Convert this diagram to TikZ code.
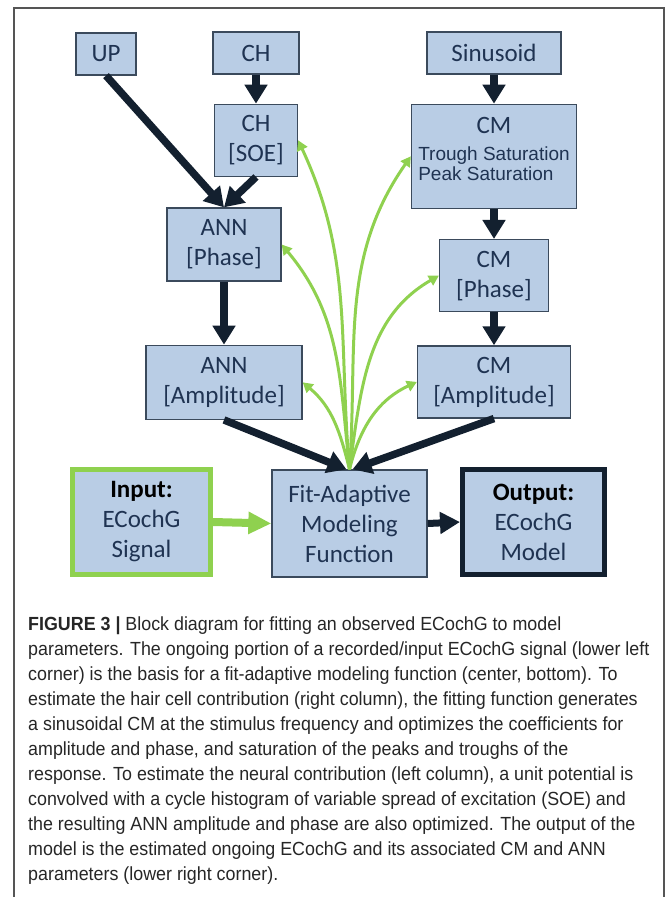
\documentclass[tikz,border=0pt]{standalone}
\usepackage{fontspec}
\usepackage{tikz}
\usetikzlibrary{arrows.meta,positioning}
\usepackage{xcolor}
\newfontfamily\boxfont{Carlito}
\newfontfamily\arialfont{Liberation Sans}
\newfontfamily\capfont[FakeStretch=0.94]{Liberation Sans}
\definecolor{boxfill}{HTML}{B9CDE5}
\definecolor{boxline}{HTML}{3B4A5C}
\definecolor{textnavy}{HTML}{1F3352}
\definecolor{arrownavy}{HTML}{13202F}
\definecolor{leafgreen}{HTML}{8FD14F}
\definecolor{framegray}{HTML}{555555}

\begin{document}
\begin{tikzpicture}[x=1pt, y=-1pt, node distance=30pt and 40pt]
\tikzset{box/.style={draw=boxline, line width=1.3pt, fill=boxfill, text=textnavy, align=center, inner sep=2pt, font=\boxfont\fontsize{25}{30}\selectfont}}
\tikzset{flow/.style={-{Triangle[width=22pt,length=19pt]}, line width=7.5pt, draw=arrownavy}}
\tikzset{fitarrow/.style={-{Triangle[width=11pt,length=10pt]}, line width=3pt, draw=leafgreen}}
\useasboundingbox (0,0) rectangle (669,897);
\draw[framegray, line width=1.3pt] (14,897) -- (14,8) -- (664,8) -- (664,897);
% left column
\node[box, minimum width=60pt, minimum height=42pt] (up) at (106,54) {UP};
\node[box, minimum width=86pt, minimum height=42pt] (ch) at (256,53) {CH};
\node[box, minimum width=83pt, minimum height=72pt, below=29pt of ch] (chsoe) {CH\\{[}SOE{]}};
\node[box, minimum width=114pt, minimum height=73pt] (annph) at (224,244.5) {ANN\\{[}Phase{]}};
\node[box, minimum width=156pt, minimum height=74pt, below=63pt of annph] (annamp) {ANN\\{[}Amplitude{]}};
% right column
\node[box, minimum width=134pt, minimum height=42pt] (sin) at (494,53) {Sinusoid};
\node[box, minimum width=165pt, minimum height=104pt, below=29pt of sin] (cmsat) {CM\\[7pt]{\arialfont\fontsize{19}{20}\selectfont\begin{tabular}{@{}l@{}}Trough Saturation\\Peak Saturation\end{tabular}}\\[-5pt]};
\node[box, minimum width=109pt, minimum height=72pt, below=30pt of cmsat] (cmph) {CM\\{[}Phase{]}};
\node[box, minimum width=153pt, minimum height=72pt, below=33pt of cmph] (cmamp) {CM\\{[}Amplitude{]}};
% bottom row
\node[box, minimum width=155pt, minimum height=107pt] (fit) at (349.5,523.5) {Fit-Adaptive\\Modeling\\Function};
\node[box, draw=leafgreen, line width=5pt, minimum width=138pt, minimum height=105pt] (input) at (141.5,522) {{\bfseries\color{black}Input:}\\ECochG\\Signal};
\node[box, draw=arrownavy, line width=5pt, minimum width=142pt, minimum height=105pt] (output) at (533.5,522) {{\bfseries\color{black}Output:}\\ECochG\\Model};
% dark connectors
\draw[flow] (up.south) -- (annph.north);
\draw[flow] (ch.south) -- (chsoe.north);
\draw[flow] (chsoe.south) -- (annph.north);
\draw[flow] (annph.south) -- (annamp.north);
\draw[flow] (sin.south) -- (cmsat.north);
\draw[flow] (cmsat.south) -- (cmph.north);
\draw[flow] (cmph.south) -- (cmamp.north);
\draw[flow] (annamp.south) -- ([xshift=-3pt]fit.north);
\draw[flow] (cmamp.south) -- ([xshift=3pt]fit.north);
\draw[flow, line width=7pt, -{Triangle[width=21pt,length=20pt]}] (fit.east) -- (output.west);
\draw[flow, draw=leafgreen, line width=8pt, -{Triangle[width=21pt,length=23pt]}] (input.east) -- (fit.west);
% fitted coefficients
\draw[fitarrow] (fit.north) to[out=104, in=-40] (annamp.east);
\draw[fitarrow] (fit.north) to[out=96, in=-50] (annph.east);
\draw[fitarrow] (fit.north) to[out=95, in=-65] (chsoe.east);
\draw[fitarrow] (fit.north) to[out=86, in=-125] (cmsat.west);
\draw[fitarrow] (fit.north) to[out=82, in=-150] (cmph.west);
\draw[fitarrow] (fit.north) to[out=76, in=-155] (cmamp.west);
% caption
\node[anchor=north west, inner sep=0pt, align=left, text=black!85, font=\capfont\fontsize{19}{25}\selectfont] (caption) at (28,617) {\textbf{FIGURE 3 |} Block diagram for fitting an observed ECochG to model\\
parameters. The ongoing portion of a recorded/input ECochG signal (lower left\\
corner) is the basis for a fit-adaptive modeling function (center, bottom). To\\
estimate the hair cell contribution (right column), the fitting function generates\\
a sinusoidal CM at the stimulus frequency and optimizes the coefficients for\\
amplitude and phase, and saturation of the peaks and troughs of the\\
response. To estimate the neural contribution (left column), a unit potential is\\
convolved with a cycle histogram of variable spread of excitation (SOE) and\\
the resulting ANN amplitude and phase are also optimized. The output of the\\
model is the estimated ongoing ECochG and its associated CM and ANN\\
parameters (lower right corner).};
\end{tikzpicture}
\end{document}
